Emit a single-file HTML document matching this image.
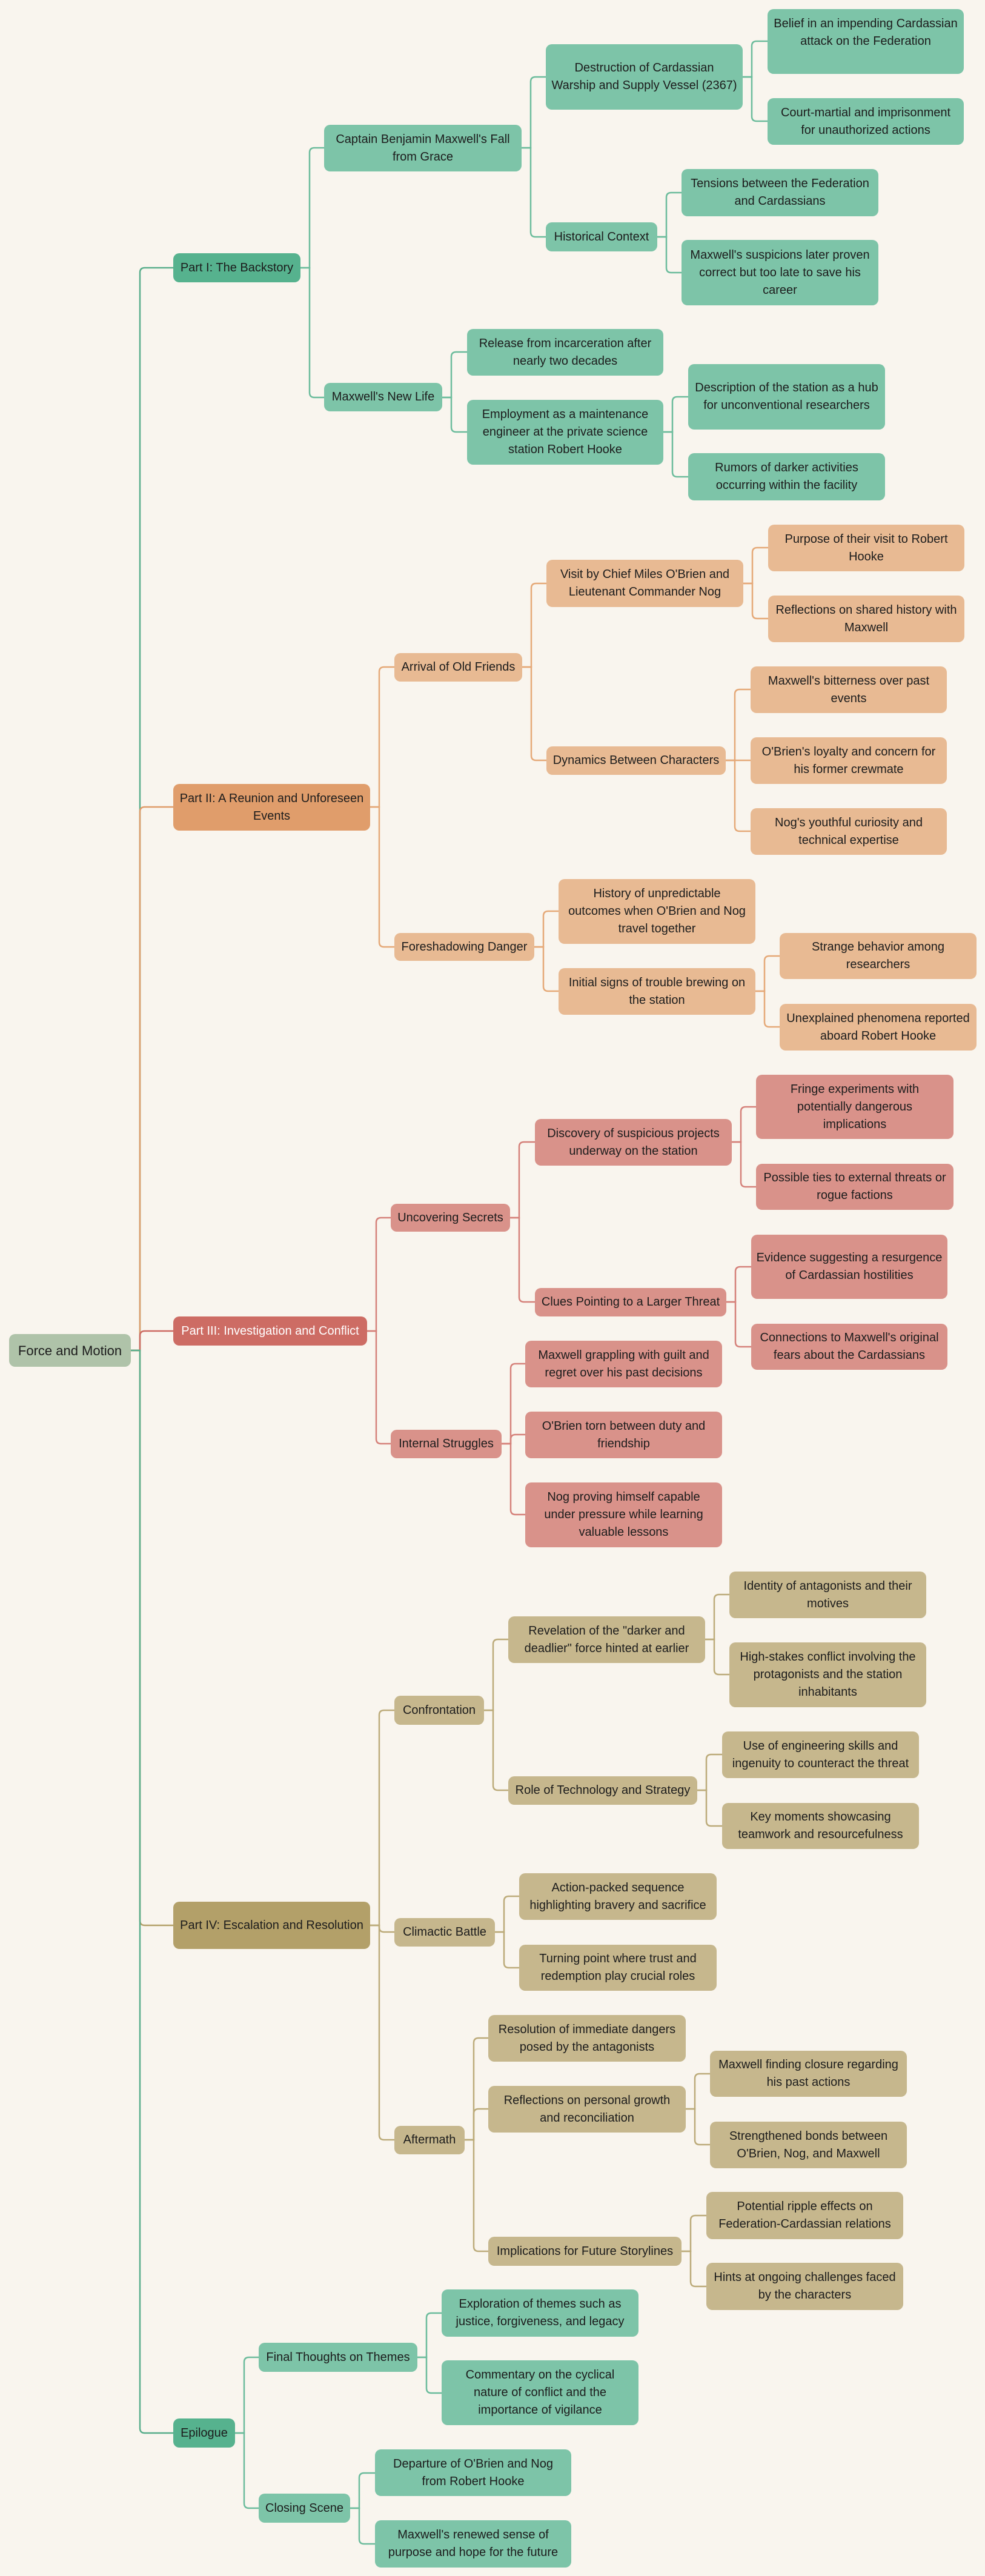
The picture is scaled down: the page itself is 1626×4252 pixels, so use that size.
<!DOCTYPE html>
<html><head><meta charset="utf-8"><style>
body{margin:0;background:#f9f5ee;}
#c{position:relative;width:1626px;height:4252px;overflow:hidden;background:#f9f5ee;font-family:"Liberation Sans",Arial,sans-serif;}
.n{position:absolute;box-sizing:border-box;border-radius:10px;display:flex;align-items:center;justify-content:center;text-align:center;font-size:20px;line-height:29px;color:#1c1c1c;white-space:nowrap;}
.g{background:#7dc4a8}.G{background:#56b28e}
.o{background:#e8ba93}.O{background:#e09d6b}
.r{background:#d9928a}.R{background:#cd6c64;color:#fff}
.t{background:#c6b78d}.T{background:#b3a069}
.root{background:#afc3a9;font-size:22px}
svg{position:absolute;left:0;top:0}
path{fill:none;stroke-width:2.5}
</style></head><body><div id="c">
<svg width="1626" height="4252">
<g stroke="#5aae8c"><path d="M216 2229 H231 V450 Q231 442 239 442 H286"/></g>
<g stroke="#e09d6b"><path d="M216 2229 H231 V1340 Q231 1332 239 1332 H286"/></g>
<g stroke="#cd6c64"><path d="M216 2229 H231 V2205 Q231 2197 239 2197 H286"/></g>
<g stroke="#b3a069"><path d="M216 2229 H231 V3170 Q231 3178 239 3178 H286"/></g>
<g stroke="#5aae8c"><path d="M216 2229 H231 V4008 Q231 4016 239 4016 H286"/></g>
<g stroke="#6cbc9c">
<path d="M496 442 H511 V252 Q511 244 519 244 H535"/>
<path d="M496 442 H511 V648 Q511 656 519 656 H535"/>
<path d="M861 244 H876 V135 Q876 127 884 127 H901"/>
<path d="M861 244 H876 V383 Q876 391 884 391 H901"/>
<path d="M1226 127 H1241 V76 Q1241 68 1249 68 H1267"/>
<path d="M1226 127 H1241 V192 Q1241 200 1249 200 H1267"/>
<path d="M1085 391 H1100 V326 Q1100 318 1108 318 H1125"/>
<path d="M1085 391 H1100 V442 Q1100 450 1108 450 H1125"/>
<path d="M730 656 H745 V589 Q745 581 753 581 H771"/>
<path d="M730 656 H745 V705 Q745 713 753 713 H771"/>
<path d="M1095 713 H1110 V663 Q1110 655 1118 655 H1136"/>
<path d="M1095 713 H1110 V779 Q1110 787 1118 787 H1136"/>
<path d="M388 4016 H403 V3899 Q403 3891 411 3891 H427"/>
<path d="M388 4016 H403 V4132 Q403 4140 411 4140 H427"/>
<path d="M689 3891 H704 V3826 Q704 3818 712 3818 H729"/>
<path d="M689 3891 H704 V3942 Q704 3950 712 3950 H729"/>
<path d="M578 4140 H593 V4090 Q593 4082 601 4082 H619"/>
<path d="M578 4140 H593 V4191 Q593 4199 601 4199 H619"/>
</g>
<g stroke="#e5a978">
<path d="M611 1332 H626 V1109 Q626 1101 634 1101 H651"/>
<path d="M611 1332 H626 V1555 Q626 1563 634 1563 H651"/>
<path d="M862 1101 H877 V971 Q877 963 885 963 H902"/>
<path d="M862 1101 H877 V1247 Q877 1255 885 1255 H902"/>
<path d="M1227 963 H1242 V912 Q1242 904 1250 904 H1268"/>
<path d="M1227 963 H1242 V1013 Q1242 1021 1250 1021 H1268"/>
<path d="M1198 1255 H1213 V1146 Q1213 1138 1221 1138 H1239"/>
<path d="M1198 1255 H1239"/>
<path d="M1198 1255 H1213 V1364 Q1213 1372 1221 1372 H1239"/>
<path d="M882 1563 H897 V1512 Q897 1504 905 1504 H922"/>
<path d="M882 1563 H897 V1628 Q897 1636 905 1636 H922"/>
<path d="M1247 1636 H1262 V1586 Q1262 1578 1270 1578 H1287"/>
<path d="M1247 1636 H1262 V1687 Q1262 1695 1270 1695 H1287"/>
</g>
<g stroke="#d5817a">
<path d="M606 2197 H621 V2018 Q621 2010 629 2010 H645"/>
<path d="M606 2197 H621 V2375 Q621 2383 629 2383 H645"/>
<path d="M842 2010 H857 V1893 Q857 1885 865 1885 H883"/>
<path d="M842 2010 H857 V2141 Q857 2149 865 2149 H883"/>
<path d="M1208 1885 H1223 V1835 Q1223 1827 1231 1827 H1248"/>
<path d="M1208 1885 H1223 V1951 Q1223 1959 1231 1959 H1248"/>
<path d="M1199 2149 H1214 V2099 Q1214 2091 1222 2091 H1240"/>
<path d="M1199 2149 H1214 V2215 Q1214 2223 1222 2223 H1240"/>
<path d="M828 2383 H843 V2259 Q843 2251 851 2251 H867"/>
<path d="M828 2383 H843 V2376 Q843 2368 851 2368 H867"/>
<path d="M828 2383 H843 V2492 Q843 2500 851 2500 H867"/>
</g>
<g stroke="#bcab7a">
<path d="M611 3178 H626 V2831 Q626 2823 634 2823 H651"/>
<path d="M611 3178 H626 V3181 Q626 3189 634 3189 H651"/>
<path d="M611 3178 H626 V3524 Q626 3532 634 3532 H651"/>
<path d="M799 2823 H814 V2714 Q814 2706 822 2706 H839"/>
<path d="M799 2823 H814 V2947 Q814 2955 822 2955 H839"/>
<path d="M1164 2706 H1179 V2640 Q1179 2632 1187 2632 H1204"/>
<path d="M1164 2706 H1179 V2756 Q1179 2764 1187 2764 H1204"/>
<path d="M1151 2955 H1166 V2904 Q1166 2896 1174 2896 H1192"/>
<path d="M1151 2955 H1166 V3006 Q1166 3014 1174 3014 H1192"/>
<path d="M817 3189 H832 V3138 Q832 3130 840 3130 H857"/>
<path d="M817 3189 H832 V3240 Q832 3248 840 3248 H857"/>
<path d="M767 3532 H782 V3372 Q782 3364 790 3364 H806"/>
<path d="M767 3532 H782 V3489 Q782 3481 790 3481 H806"/>
<path d="M767 3532 H782 V3708 Q782 3716 790 3716 H806"/>
<path d="M1132 3481 H1147 V3431 Q1147 3423 1155 3423 H1172"/>
<path d="M1132 3481 H1147 V3532 Q1147 3540 1155 3540 H1172"/>
<path d="M1125 3716 H1140 V3665 Q1140 3657 1148 3657 H1166"/>
<path d="M1125 3716 H1140 V3766 Q1140 3774 1148 3774 H1166"/>
</g>
</svg>

<div class="n root" style="left:15px;top:2202px;width:201px;height:54px">Force and Motion</div>

<div class="n G" style="left:286px;top:418px;width:210px;height:48px">Part I: The Backstory</div>
<div class="n g" style="left:535px;top:206px;width:326px;height:77px">Captain Benjamin Maxwell's Fall<br>from Grace</div>
<div class="n g" style="left:535px;top:632px;width:195px;height:47px">Maxwell's New Life</div>
<div class="n g" style="left:901px;top:73px;width:325px;height:108px">Destruction of Cardassian<br>Warship and Supply Vessel (2367)</div>
<div class="n g" style="left:901px;top:367px;width:184px;height:48px">Historical Context</div>
<div class="n g" style="left:1267px;top:15px;width:324px;height:107px;align-items:flex-start;padding-top:10px">Belief in an impending Cardassian<br>attack on the Federation</div>
<div class="n g" style="left:1267px;top:162px;width:324px;height:77px">Court-martial and imprisonment<br>for unauthorized actions</div>
<div class="n g" style="left:1125px;top:279px;width:325px;height:78px">Tensions between the Federation<br>and Cardassians</div>
<div class="n g" style="left:1125px;top:396px;width:325px;height:108px">Maxwell's suspicions later proven<br>correct but too late to save his<br>career</div>
<div class="n g" style="left:771px;top:543px;width:324px;height:77px">Release from incarceration after<br>nearly two decades</div>
<div class="n g" style="left:771px;top:660px;width:324px;height:107px">Employment as a maintenance<br>engineer at the private science<br>station Robert Hooke</div>
<div class="n g" style="left:1136px;top:601px;width:325px;height:108px">Description of the station as a hub<br>for unconventional researchers</div>
<div class="n g" style="left:1136px;top:748px;width:325px;height:78px">Rumors of darker activities<br>occurring within the facility</div>

<div class="n O" style="left:286px;top:1294px;width:325px;height:77px">Part II: A Reunion and Unforeseen<br>Events</div>
<div class="n o" style="left:651px;top:1078px;width:211px;height:47px">Arrival of Old Friends</div>
<div class="n o" style="left:651px;top:1540px;width:231px;height:46px">Foreshadowing Danger</div>
<div class="n o" style="left:902px;top:924px;width:325px;height:78px">Visit by Chief Miles O'Brien and<br>Lieutenant Commander Nog</div>
<div class="n o" style="left:902px;top:1232px;width:296px;height:47px">Dynamics Between Characters</div>
<div class="n o" style="left:1268px;top:866px;width:324px;height:77px">Purpose of their visit to Robert<br>Hooke</div>
<div class="n o" style="left:1268px;top:983px;width:324px;height:77px">Reflections on shared history with<br>Maxwell</div>
<div class="n o" style="left:1239px;top:1100px;width:324px;height:77px">Maxwell's bitterness over past<br>events</div>
<div class="n o" style="left:1239px;top:1217px;width:324px;height:77px">O'Brien's loyalty and concern for<br>his former crewmate</div>
<div class="n o" style="left:1239px;top:1334px;width:324px;height:77px">Nog's youthful curiosity and<br>technical expertise</div>
<div class="n o" style="left:922px;top:1451px;width:325px;height:107px">History of unpredictable<br>outcomes when O'Brien and Nog<br>travel together</div>
<div class="n o" style="left:922px;top:1598px;width:325px;height:77px">Initial signs of trouble brewing on<br>the station</div>
<div class="n o" style="left:1287px;top:1540px;width:325px;height:76px">Strange behavior among<br>researchers</div>
<div class="n o" style="left:1287px;top:1657px;width:325px;height:77px">Unexplained phenomena reported<br>aboard Robert Hooke</div>

<div class="n R" style="left:286px;top:2173px;width:320px;height:48px">Part III: Investigation and Conflict</div>
<div class="n r" style="left:645px;top:1987px;width:197px;height:46px">Uncovering Secrets</div>
<div class="n r" style="left:645px;top:2360px;width:183px;height:47px">Internal Struggles</div>
<div class="n r" style="left:883px;top:1847px;width:325px;height:77px">Discovery of suspicious projects<br>underway on the station</div>
<div class="n r" style="left:883px;top:2126px;width:316px;height:47px">Clues Pointing to a Larger Threat</div>
<div class="n r" style="left:1248px;top:1774px;width:326px;height:106px">Fringe experiments with<br>potentially dangerous<br>implications</div>
<div class="n r" style="left:1248px;top:1921px;width:326px;height:76px">Possible ties to external threats or<br>rogue factions</div>
<div class="n r" style="left:1240px;top:2038px;width:324px;height:106px">Evidence suggesting a resurgence<br>of Cardassian hostilities</div>
<div class="n r" style="left:1240px;top:2185px;width:324px;height:76px">Connections to Maxwell's original<br>fears about the Cardassians</div>
<div class="n r" style="left:867px;top:2213px;width:325px;height:77px">Maxwell grappling with guilt and<br>regret over his past decisions</div>
<div class="n r" style="left:867px;top:2330px;width:325px;height:77px">O'Brien torn between duty and<br>friendship</div>
<div class="n r" style="left:867px;top:2447px;width:325px;height:107px">Nog proving himself capable<br>under pressure while learning<br>valuable lessons</div>

<div class="n T" style="left:286px;top:3139px;width:325px;height:78px">Part IV: Escalation and Resolution</div>
<div class="n t" style="left:651px;top:2799px;width:148px;height:48px">Confrontation</div>
<div class="n t" style="left:651px;top:3166px;width:166px;height:47px">Climactic Battle</div>
<div class="n t" style="left:651px;top:3509px;width:116px;height:47px">Aftermath</div>
<div class="n t" style="left:839px;top:2668px;width:325px;height:77px">Revelation of the "darker and<br>deadlier" force hinted at earlier</div>
<div class="n t" style="left:839px;top:2932px;width:312px;height:47px">Role of Technology and Strategy</div>
<div class="n t" style="left:1204px;top:2594px;width:325px;height:77px">Identity of antagonists and their<br>motives</div>
<div class="n t" style="left:1204px;top:2711px;width:325px;height:107px">High-stakes conflict involving the<br>protagonists and the station<br>inhabitants</div>
<div class="n t" style="left:1192px;top:2858px;width:325px;height:77px">Use of engineering skills and<br>ingenuity to counteract the threat</div>
<div class="n t" style="left:1192px;top:2976px;width:325px;height:76px">Key moments showcasing<br>teamwork and resourcefulness</div>
<div class="n t" style="left:857px;top:3092px;width:326px;height:77px">Action-packed sequence<br>highlighting bravery and sacrifice</div>
<div class="n t" style="left:857px;top:3210px;width:326px;height:76px">Turning point where trust and<br>redemption play crucial roles</div>
<div class="n t" style="left:806px;top:3326px;width:326px;height:77px">Resolution of immediate dangers<br>posed by the antagonists</div>
<div class="n t" style="left:806px;top:3443px;width:326px;height:77px">Reflections on personal growth<br>and reconciliation</div>
<div class="n t" style="left:806px;top:3692px;width:319px;height:48px">Implications for Future Storylines</div>
<div class="n t" style="left:1172px;top:3385px;width:325px;height:76px">Maxwell finding closure regarding<br>his past actions</div>
<div class="n t" style="left:1172px;top:3502px;width:325px;height:77px">Strengthened bonds between<br>O'Brien, Nog, and Maxwell</div>
<div class="n t" style="left:1166px;top:3618px;width:325px;height:78px">Potential ripple effects on<br>Federation-Cardassian relations</div>
<div class="n t" style="left:1166px;top:3735px;width:325px;height:78px">Hints at ongoing challenges faced<br>by the characters</div>

<div class="n G" style="left:286px;top:3992px;width:102px;height:48px">Epilogue</div>
<div class="n g" style="left:427px;top:3867px;width:262px;height:48px">Final Thoughts on Themes</div>
<div class="n g" style="left:427px;top:4116px;width:151px;height:48px">Closing Scene</div>
<div class="n g" style="left:729px;top:3779px;width:325px;height:78px">Exploration of themes such as<br>justice, forgiveness, and legacy</div>
<div class="n g" style="left:729px;top:3896px;width:325px;height:107px">Commentary on the cyclical<br>nature of conflict and the<br>importance of vigilance</div>
<div class="n g" style="left:619px;top:4043px;width:324px;height:77px">Departure of O'Brien and Nog<br>from Robert Hooke</div>
<div class="n g" style="left:619px;top:4160px;width:324px;height:78px">Maxwell's renewed sense of<br>purpose and hope for the future</div>
</div></body></html>
